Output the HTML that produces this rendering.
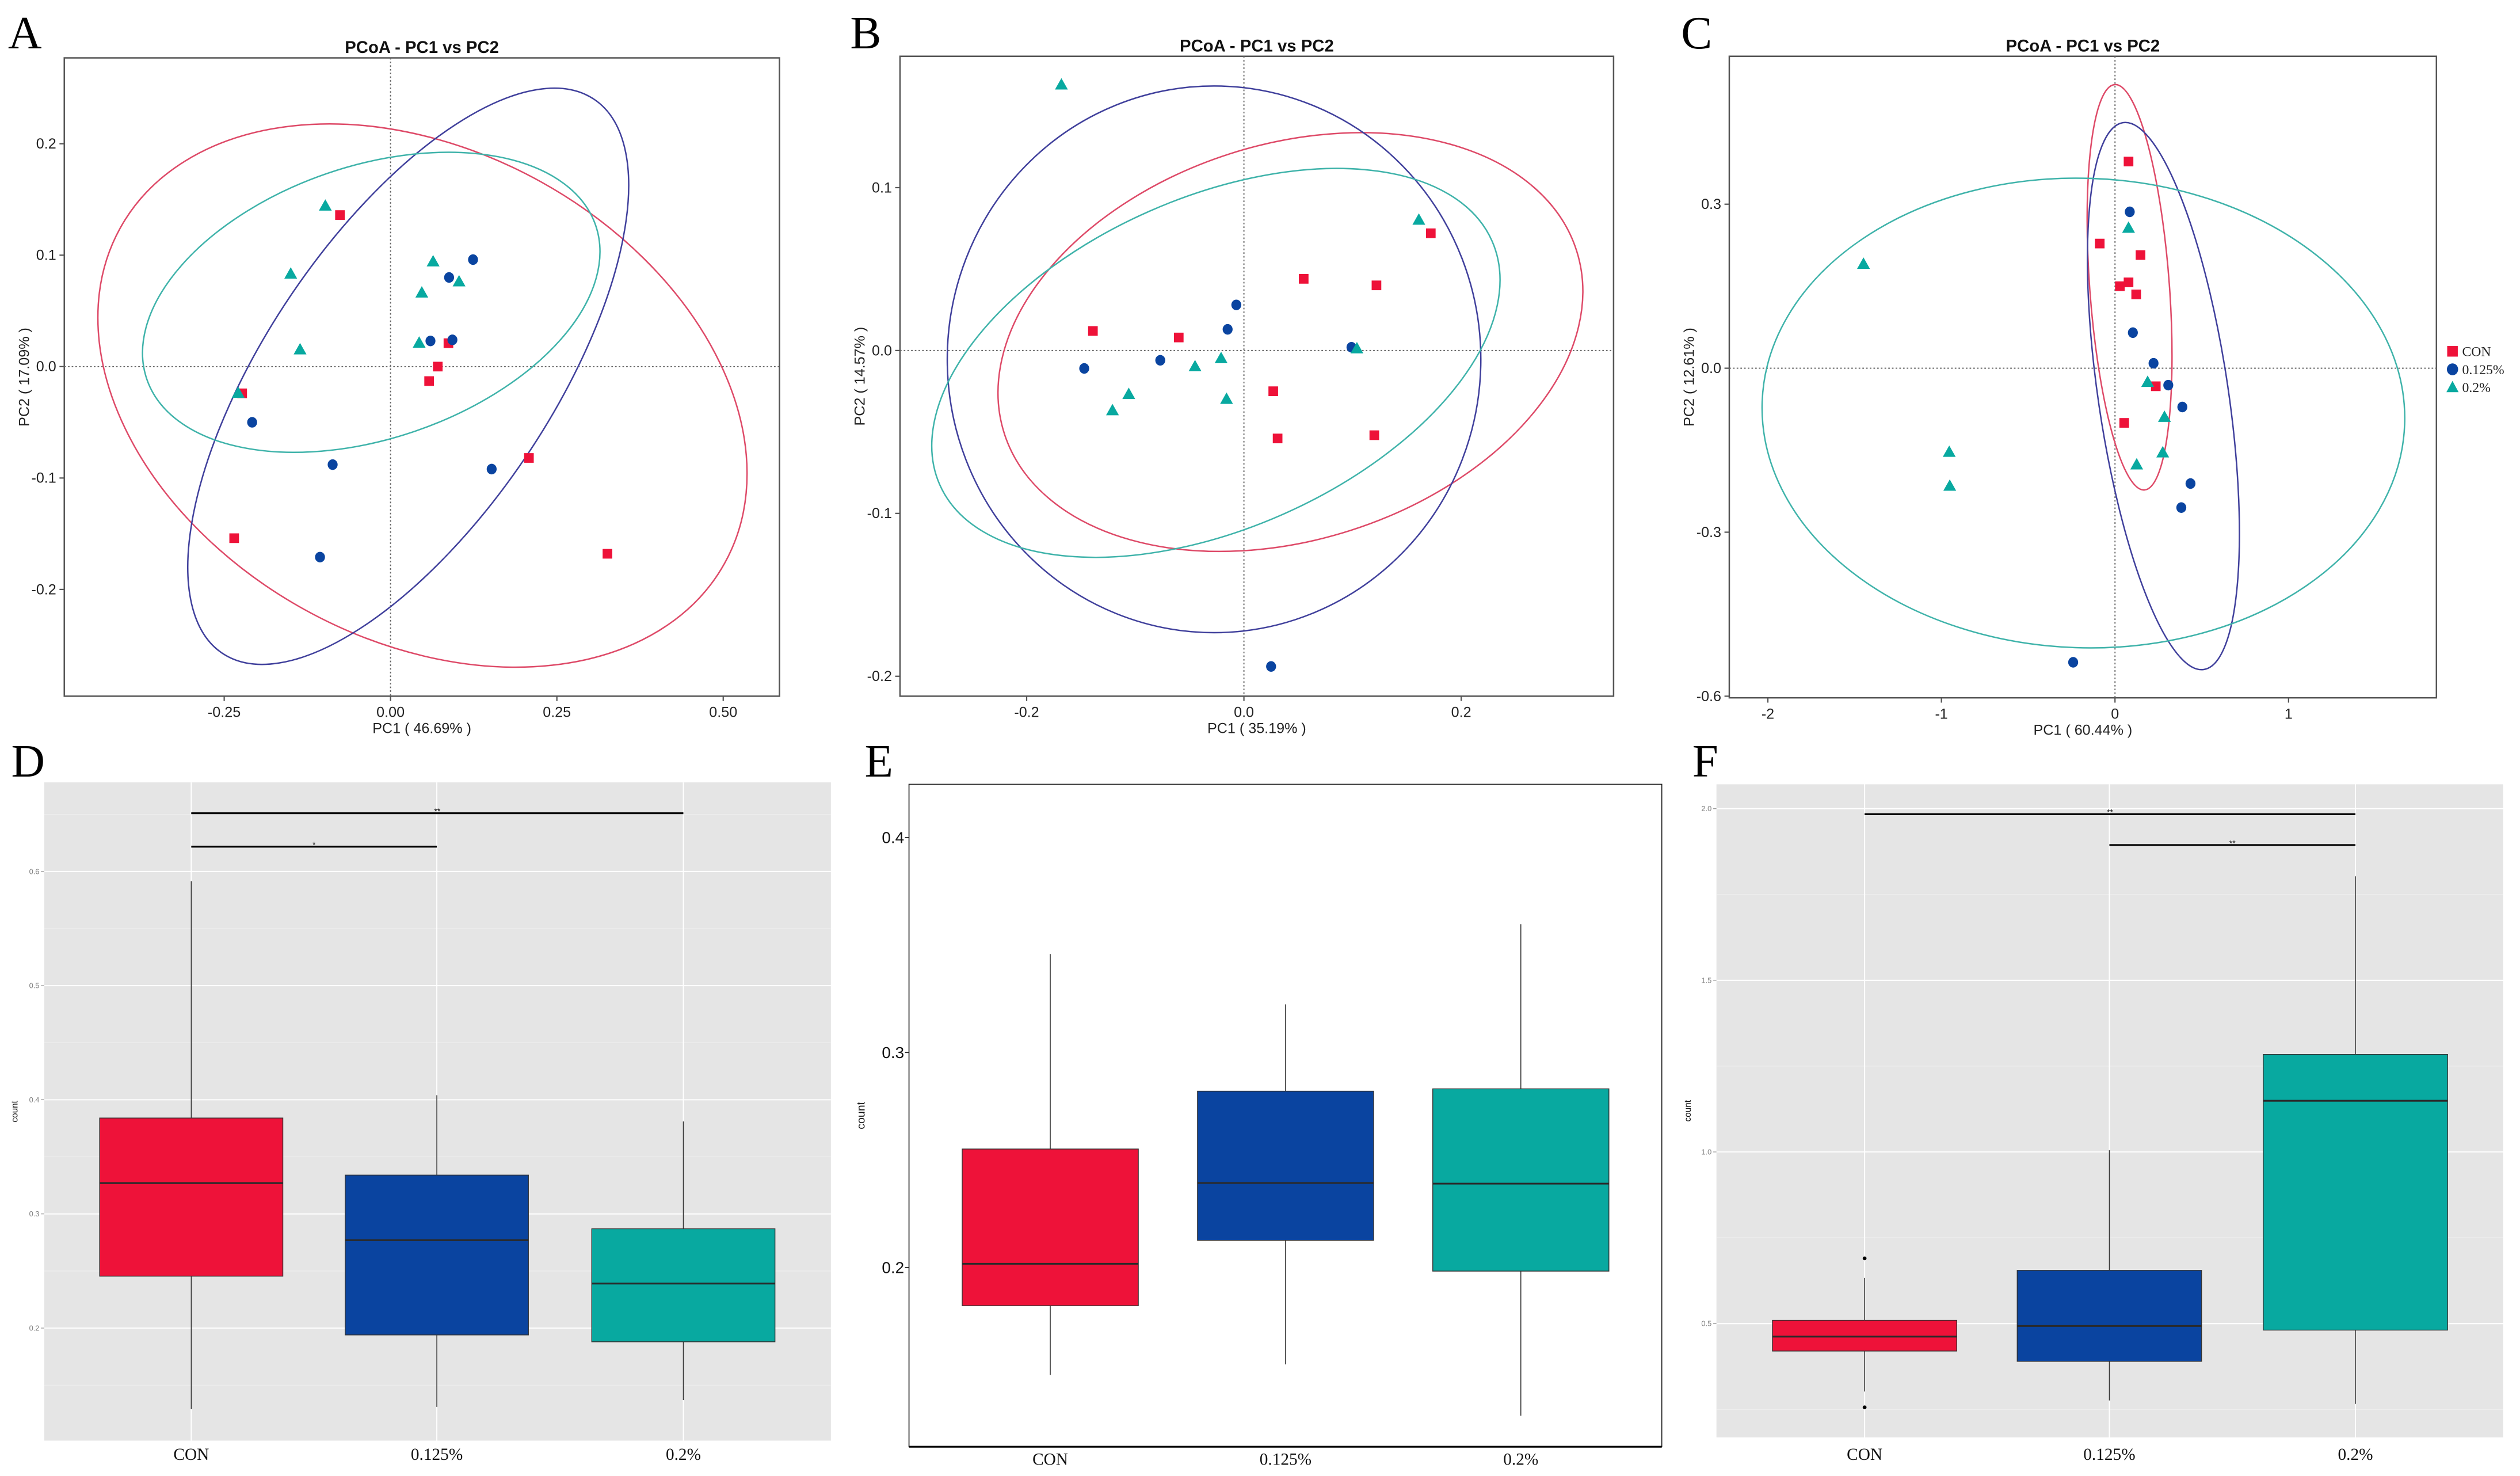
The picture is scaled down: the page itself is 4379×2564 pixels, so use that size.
<!DOCTYPE html>
<html><head><meta charset="utf-8"><style>
html,body{margin:0;padding:0;background:#fff;}
svg{display:block;}
</style></head><body>
<svg id="fig" xmlns="http://www.w3.org/2000/svg" width="4379" height="2564" viewBox="0 0 1568 918" preserveAspectRatio="none"></svg>
<script>
// ---------- PCoA data (PC1, PC2) ----------
const aConPC1 = [-0.076,-0.223,0.087,0.071,0.058,0.208,-0.235,0.326];
const aConPC2 = [0.136,-0.024,0.021,0.0,-0.013,-0.082,-0.154,-0.168];
const aLowPC1 = [0.124,0.088,0.060,0.093,-0.208,-0.087,0.152,-0.106];
const aLowPC2 = [0.096,0.080,0.023,0.024,-0.050,-0.088,-0.092,-0.171];
const aHighPC1 = [-0.098,-0.150,0.064,0.103,0.047,-0.136,0.043,-0.229];
const aHighPC2 = [0.144,0.083,0.094,0.076,0.066,0.015,0.021,-0.024];

const bConPC1 = [-0.139,-0.060,0.055,0.122,0.172,0.027,0.031,0.120];
const bConPC2 = [0.012,0.008,0.044,0.040,0.072,-0.025,-0.054,-0.052];
const bLowPC1 = [-0.147,-0.077,-0.015,-0.007,0.099,0.025];
const bLowPC2 = [-0.011,-0.006,0.013,0.028,0.002,-0.194];
const bHighPC1 = [-0.168,-0.106,-0.121,-0.045,-0.021,-0.016,0.104,0.161];
const bHighPC2 = [0.163,-0.027,-0.037,-0.010,-0.005,-0.030,0.001,0.080];

const cConPC1 = [0.078,-0.088,0.147,0.028,0.078,0.122,0.235,0.053];
const cConPC2 = [0.378,0.228,0.207,0.150,0.157,0.135,-0.033,-0.100];
const cLowPC1 = [0.085,0.103,0.222,0.307,0.388,0.435,0.382,-0.241];
const cLowPC2 = [0.286,0.065,0.009,-0.031,-0.071,-0.211,-0.255,-0.538];
const cHighPC1 = [-1.449,0.078,-0.955,-0.952,0.188,0.285,0.275,0.125];
const cHighPC2 = [0.190,0.256,-0.154,-0.216,-0.026,-0.090,-0.155,-0.177];

// ellipse centres (data units)
const aEllipseCX = [0.048,0.0266,-0.029];
const aEllipseCY = [-0.026,-0.0087,0.0577];
const bEllipseCX = [0.0428,-0.0275,-0.0258];
const bEllipseCY = [0.0052,-0.0054,-0.0076];
const cEllipseCX = [0.084,0.279,-0.182];
const cEllipseCY = [0.148,-0.051,-0.082];

const aXTicks = [-0.25,0,0.25,0.5];
const aXTickLabels = ["-0.25","0.00","0.25","0.50"];
const aYTicks = [0.2,0.1,0,-0.1,-0.2];
const aYTickLabels = ["0.2","0.1","0.0","-0.1","-0.2"];
const bXTicks = [-0.2,0,0.2];
const bXTickLabels = ["-0.2","0.0","0.2"];
const bYTicks = [0.1,0,-0.1,-0.2];
const bYTickLabels = ["0.1","0.0","-0.1","-0.2"];
const cXTicks = [-2,-1,0,1];
const cXTickLabels = ["-2","-1","0","1"];
const cYTicks = [0.3,0,-0.3,-0.6];
const cYTickLabels = ["0.3","0.0","-0.3","-0.6"];

// ---------- Box plot data ----------
const boxCategories = ["CON","0.125%","0.2%"];
const dLower = [0.129,0.131,0.137];
const dQ1 = [0.2455,0.194,0.188];
const dMedian = [0.327,0.277,0.239];
const dQ3 = [0.384,0.334,0.287];
const dUpper = [0.5914,0.404,0.381];
const dYTicks = [0.2,0.3,0.4,0.5,0.6];
const dYTickLabels = ["0.2","0.3","0.4","0.5","0.6"];
const dSigY = [0.651,0.6217];
const dSigFrom = [0,0];
const dSigTo = [2,1];
const dSigLabel = ["**","*"];

const eLower = [0.150,0.1549,0.131];
const eQ1 = [0.1822,0.2126,0.1983];
const eMedian = [0.2017,0.2393,0.2390];
const eQ3 = [0.2551,0.282,0.2831];
const eUpper = [0.3458,0.3224,0.3597];
const eYTicks = [0.2,0.3,0.4];
const eYTickLabels = ["0.2","0.3","0.4"];

const fLower = [0.302,0.276,0.266];
const fQ1 = [0.420,0.390,0.481];
const fMedian = [0.462,0.493,1.149];
const fQ3 = [0.5095,0.655,1.284];
const fUpper = [0.633,1.005,1.803];
const fOutlierGroup = [0,0];
const fOutlierValue = [0.690,0.256];
const fYTicks = [0.5,1.0,1.5,2.0];
const fYTickLabels = ["0.5","1.0","1.5","2.0"];
const fSigY = [1.984,1.894];
const fSigFrom = [0,1];
const fSigTo = [2,2];
const fSigLabel = ["**","**"];

// ---------- helpers ----------
const NS = "http://www.w3.org/2000/svg";
const svg = document.getElementById("fig");
function mk(tag, attrs, parent){
  const e = document.createElementNS(NS, tag);
  for (const k in attrs) e.setAttribute(k, attrs[k]);
  (parent||svg).appendChild(e);
  return e;
}
const RED="#ee1239", BLUE="#0a44a0", TEAL="#08a9a0";
const ERED="#de4a68", EBLUE="#40409c", ETEAL="#3fb3aa";
const SANS='"Liberation Sans", Arial, sans-serif';
const SERIF='"Liberation Serif", "Times New Roman", serif';

function panelLetter(txt,x,y){
  const t = mk("text",{x:x,y:y,"font-family":SERIF,"font-size":29,fill:"#000"});
  t.textContent = txt;
  
  
}

function pcoa(cfg){
  const g = mk("g",{});
  
  
  const sx = v => cfg.x0 + v*cfg.kx;
  const sy = v => cfg.y0 - v*cfg.ky;
  const frame = mk("rect",{x:cfg.L,y:cfg.T,width:cfg.R-cfg.L,height:cfg.B-cfg.T,fill:"#fff",stroke:"#555","stroke-width":0.9},g);
  
  
  const title = mk("text",{x:(cfg.L+cfg.R)/2,y:cfg.T-3,"text-anchor":"middle","font-family":SANS,"font-weight":"bold","font-size":10.5,fill:"#111"},g);
  title.textContent = "PCoA - PC1 vs PC2";
  
  
  const zx = mk("line",{x1:sx(0),x2:sx(0),y1:cfg.T,y2:cfg.B,stroke:"#666","stroke-width":0.7,"stroke-dasharray":"1,1.3"},g);
  
  
  const zy = mk("line",{x1:cfg.L,x2:cfg.R,y1:sy(0),y2:sy(0),stroke:"#666","stroke-width":0.7,"stroke-dasharray":"1,1.3"},g);
  
  
  cfg.xt.forEach((v,i)=>{
    const tk = mk("line",{x1:sx(v),x2:sx(v),y1:cfg.B,y2:cfg.B+3,stroke:"#555","stroke-width":0.8},g);
    
    
    const t = mk("text",{x:sx(v),y:cfg.B+13,"text-anchor":"middle","font-family":SANS,"font-size":9,fill:"#222"},g);
    t.textContent = cfg.xl[i];
    
    
  });
  cfg.yt.forEach((v,i)=>{
    const tk = mk("line",{x1:cfg.L-3,x2:cfg.L,y1:sy(v),y2:sy(v),stroke:"#555","stroke-width":0.8},g);
    
    
    const t = mk("text",{x:cfg.L-5,y:sy(v)+3,"text-anchor":"end","font-family":SANS,"font-size":9,fill:"#222"},g);
    t.textContent = cfg.yl[i];
    
    
  });
  const xt = mk("text",{x:(cfg.L+cfg.R)/2,y:cfg.B+23,"text-anchor":"middle","font-family":SANS,"font-size":9,fill:"#222"},g);
  xt.textContent = cfg.xTitle;
  
  
  const yc = (cfg.T+cfg.B)/2;
  const yt = mk("text",{x:cfg.L-22,y:yc,"text-anchor":"middle","font-family":SANS,"font-size":9,fill:"#222",transform:"rotate(-90 "+(cfg.L-22)+" "+yc+")"},g);
  yt.textContent = cfg.yTitle;
  
  
  // ellipses
  const ecol=[ERED,EBLUE,ETEAL], enames=['ellipse-con','ellipse-0125','ellipse-02'];
  cfg.ecx.forEach((v,i)=>{
    const cx=sx(v), cy=sy(cfg.ecy[i]);
    const e = mk("ellipse",{cx:cx,cy:cy,rx:cfg.erx[i],ry:cfg.ery[i],transform:"rotate("+cfg.erot[i]+" "+cx+" "+cy+")",fill:"none",stroke:ecol[i],"stroke-width":0.9},g);
    
    
  });
  // points
  cfg.con[0].forEach((v,i)=>{
    const x=sx(v), y=sy(cfg.con[1][i]);
    const p = mk("rect",{x:x-3,y:y-3,width:6,height:6,fill:RED},g);
    
    
  });
  cfg.low[0].forEach((v,i)=>{
    const x=sx(v), y=sy(cfg.low[1][i]);
    const p = mk("ellipse",{cx:x,cy:y,rx:3.1,ry:3.3,fill:BLUE},g);
    
    
  });
  cfg.high[0].forEach((v,i)=>{
    const x=sx(v), y=sy(cfg.high[1][i]);
    const p = mk("polygon",{points:(x)+","+(y-4.3)+" "+(x-4)+","+(y+2.8)+" "+(x+4)+","+(y+2.8),fill:TEAL},g);
    
    
  });
}

pcoa({name:"pcoa-panel-a",L:40,R:485,T:36,B:433,x0:243,kx:414,y0:228,ky:693,
  xt:aXTicks,xl:aXTickLabels,yt:aYTicks,yl:aYTickLabels,xTitle:"PC1 ( 46.69% )",yTitle:"PC2 ( 17.09% )",
  ecx:aEllipseCX,ecy:aEllipseCY,erx:[215,88.7,147.6],ery:[152,207.5,84.7],erot:[29,33.9,-18.9],
  con:[aConPC1,aConPC2],low:[aLowPC1,aLowPC2],high:[aHighPC1,aHighPC2]});
pcoa({name:"pcoa-panel-b",L:560,R:1004,T:35,B:433,x0:774,kx:676,y0:218,ky:1013,
  xt:bXTicks,xl:bXTickLabels,yt:bYTicks,yl:bYTickLabels,xTitle:"PC1 ( 35.19% )",yTitle:"PC2 ( 14.57% )",
  ecx:bEllipseCX,ecy:bEllipseCY,erx:[186.9,166,187.8],ery:[123,170,103],erot:[-17.7,0,-23.8],
  con:[bConPC1,bConPC2],low:[bLowPC1,bLowPC2],high:[bHighPC1,bHighPC2]});
pcoa({name:"pcoa-panel-c",L:1076,R:1516,T:35,B:434,x0:1316,kx:108,y0:229,ky:340,
  xt:cXTicks,xl:cXTickLabels,yt:cYTicks,yl:cYTickLabels,xTitle:"PC1 ( 60.44% )",yTitle:"PC2 ( 12.61% )",
  ecx:cEllipseCX,ecy:cEllipseCY,erx:[24.8,40.5,200],ery:[126.4,171.9,146],erot:[-4.2,-8.4,2],
  con:[cConPC1,cConPC2],low:[cLowPC1,cLowPC2],high:[cHighPC1,cHighPC2]});

// legend for C
(function(){
  const g = mk("g",{});
  
  
  const labels = ["CON","0.125%","0.2%"];
  labels.forEach((lab,i)=>{
    const y = 218.5 + i*11.2, x = 1526;
    let m;
    if(i===0) m = mk("rect",{x:x-3.3,y:y-3.3,width:6.6,height:6.6,fill:RED},g);
    else if(i===1) m = mk("ellipse",{cx:x,cy:y,rx:3.5,ry:3.7,fill:BLUE},g);
    else m = mk("polygon",{points:x+","+(y-4)+" "+(x-3.8)+","+(y+3)+" "+(x+3.8)+","+(y+3),fill:TEAL},g);
    
    
    const t = mk("text",{x:x+6,y:y+3,"font-family":SERIF,"font-size":8.5,fill:"#222"},g);
    t.textContent = lab;
    
    
  });
})();

function boxplot(cfg){
  const g = mk("g",{});
  
  
  const sy = v => cfg.yRef - (v - cfg.vRef)*cfg.k;
  const cx = cfg.cx;
  if(cfg.gg){
    const bg = mk("rect",{x:cfg.L,y:cfg.T,width:cfg.R-cfg.L,height:cfg.B-cfg.T,fill:"#e5e5e5"},g);
    
    
    cfg.minor.forEach(v=>{
      const y=sy(v); if(y<cfg.T||y>cfg.B) return;
      const l = mk("line",{x1:cfg.L,x2:cfg.R,y1:y,y2:y,stroke:"#f0f0f0","stroke-width":0.35},g);
      
      
    });
    cfg.yt.forEach(v=>{
      const l = mk("line",{x1:cfg.L,x2:cfg.R,y1:sy(v),y2:sy(v),stroke:"#fff","stroke-width":0.7},g);
      
      
    });
    cx.forEach(x=>{
      const l = mk("line",{x1:x,x2:x,y1:cfg.T,y2:cfg.B,stroke:"#fff","stroke-width":0.7},g);
      
      
    });
    cfg.yt.forEach((v,i)=>{
      const tk = mk("line",{x1:cfg.L-2,x2:cfg.L,y1:sy(v),y2:sy(v),stroke:"#888","stroke-width":0.4},g);
      
      
      const t = mk("text",{x:cfg.L-3,y:sy(v)+1.6,"text-anchor":"end","font-family":SANS,"font-size":4.6,fill:"#7f7f7f"},g);
      t.textContent = cfg.yl[i];
      
      
    });
  } else {
    const fr = mk("rect",{x:cfg.L,y:cfg.T,width:cfg.R-cfg.L,height:cfg.B-cfg.T,fill:"#fff",stroke:"#222","stroke-width":0.6},g);
    
    
    const ax = mk("line",{x1:cfg.L,x2:cfg.R,y1:cfg.B,y2:cfg.B,stroke:"#000","stroke-width":1.1},g);
    
    
    cfg.yt.forEach((v,i)=>{
      const tk = mk("line",{x1:cfg.L-2.5,x2:cfg.L,y1:sy(v),y2:sy(v),stroke:"#222","stroke-width":0.6},g);
      
      
      const t = mk("text",{x:cfg.L-3,y:sy(v)+3.5,"text-anchor":"end","font-family":SANS,"font-size":10,fill:"#111"},g);
      t.textContent = cfg.yl[i];
      
      
    });
  }
  const cols=[RED,BLUE,TEAL];
  cfg.cats.forEach((c,i)=>{
    const x=cx[i], hw=cfg.bw/2;
    const w = mk("line",{x1:x,x2:x,y1:sy(cfg.lo[i]),y2:sy(cfg.up[i]),stroke:"#333","stroke-width":0.55},g);
    
    
    const b = mk("rect",{x:x-hw,y:sy(cfg.q3[i]),width:cfg.bw,height:sy(cfg.q1[i])-sy(cfg.q3[i]),fill:cols[i],stroke:"#333","stroke-width":0.5},g);
    
    
    const m = mk("line",{x1:x-hw,x2:x+hw,y1:sy(cfg.med[i]),y2:sy(cfg.med[i]),stroke:"#2a2a2a","stroke-width":1.1},g);
    
    
    const t = mk("text",{x:x,y:cfg.labY,"text-anchor":"middle","font-family":SERIF,"font-size":10.5,fill:"#111"},g);
    t.textContent = c;
    
    
  });
  (cfg.outG||[]).forEach((gi,i)=>{
    const o = mk("circle",{cx:cx[gi],cy:sy(cfg.outV[i]),r:1.2,fill:"#000"},g);
    
    
  });
  (cfg.sigY||[]).forEach((v,i)=>{
    const x1=cx[cfg.sigFrom[i]], x2=cx[cfg.sigTo[i]];
    const l = mk("line",{x1:x1,x2:x2,y1:sy(v),y2:sy(v),stroke:"#000","stroke-width":1.1},g);
    
    
    const t = mk("text",{x:(x1+x2)/2,y:sy(v)+0.5,"text-anchor":"middle","font-family":SANS,"font-size":5,fill:"#000"},g);
    t.textContent = cfg.sigL[i];
    
    
  });
  const yc=(cfg.T+cfg.B)/2;
  const yt = mk("text",{x:cfg.yTitleX,y:yc,"text-anchor":"middle","font-family":SANS,"font-size":cfg.gg?5.5:7,fill:"#111",transform:"rotate(-90 "+cfg.yTitleX+" "+yc+")"},g);
  yt.textContent = "count";
  
  
}

boxplot({name:"boxplot-panel-d",gg:true,L:27.5,R:517,T:486.6,B:896,yRef:542,vRef:0.6,k:710,
  cx:[119,271.8,425.2],bw:114,cats:boxCategories,lo:dLower,q1:dQ1,med:dMedian,q3:dQ3,up:dUpper,
  yt:dYTicks,yl:dYTickLabels,minor:[0.15,0.25,0.35,0.45,0.55,0.65],
  sigY:dSigY,sigFrom:dSigFrom,sigTo:dSigTo,sigL:dSigLabel,labY:908,yTitleX:11});
boxplot({name:"boxplot-panel-e",gg:false,L:565.6,R:1034,T:487.8,B:899.8,yRef:520.9,vRef:0.4,k:1337,
  cx:[653.5,799.9,946.3],bw:109.6,cats:boxCategories,lo:eLower,q1:eQ1,med:eMedian,q3:eQ3,up:eUpper,
  yt:eYTicks,yl:eYTickLabels,labY:911,yTitleX:538});
boxplot({name:"boxplot-panel-f",gg:true,L:1068,R:1557.5,T:487.8,B:894,yRef:823.2,vRef:0.5,k:213.5,
  cx:[1160.2,1312.5,1465.6],bw:114.7,cats:boxCategories,lo:fLower,q1:fQ1,med:fMedian,q3:fQ3,up:fUpper,
  yt:fYTicks,yl:fYTickLabels,minor:[0.25,0.75,1.25,1.75],outG:fOutlierGroup,outV:fOutlierValue,
  sigY:fSigY,sigFrom:fSigFrom,sigTo:fSigTo,sigL:fSigLabel,labY:908,yTitleX:1052});

panelLetter("A",5,30);
panelLetter("B",529,30);
panelLetter("C",1046,30);
panelLetter("D",7,483);
panelLetter("E",538,483);
panelLetter("F",1053,483);
</script>
</body></html>
